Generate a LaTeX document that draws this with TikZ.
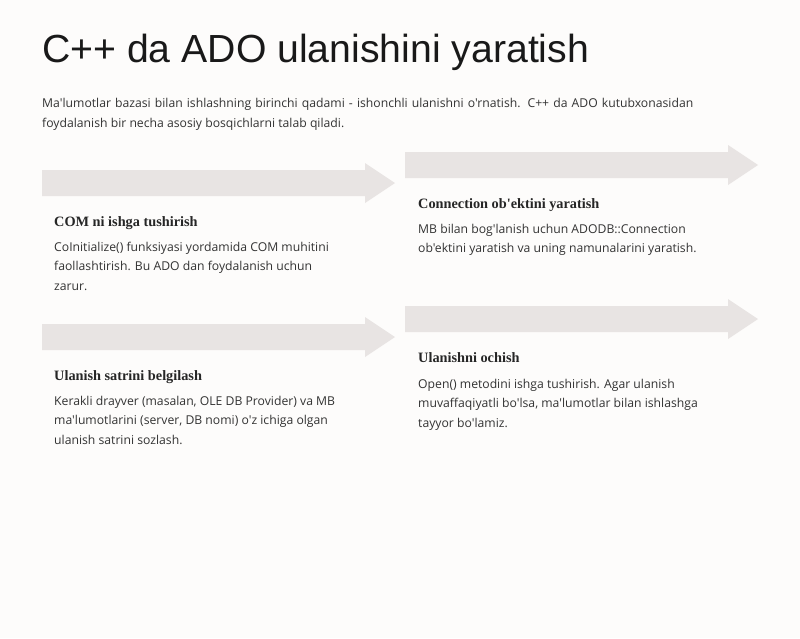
\documentclass[tikz,border=0pt]{standalone}
\usepackage{fontspec}
\setmainfont{Open Sans}[Ligatures=TeXOff]
\newfontfamily\titlefont{Liberation Sans}
\newfontfamily\headfont{Liberation Serif}[Ligatures=TeXOff]
\definecolor{pagebg}{HTML}{FDFCFB}
\definecolor{barfill}{HTML}{E8E4E3}
\definecolor{inktext}{HTML}{333333}
\begin{document}
\begin{tikzpicture}[
        x=1pt, y=-1pt,
        title/.style={anchor=base west, inner sep=0pt, text=black!90,
                      font=\titlefont\fontsize{39.2}{44}\selectfont},
        intro/.style={anchor=base west, inner sep=0pt, align=left, text=inktext,
                      font=\fontsize{12.2}{20}\selectfont},
        stephead/.style={anchor=base west, inner sep=0pt, text=black!85,
                      font=\headfont\bfseries\fontsize{14.3}{18}\selectfont},
        stepbody/.style={anchor=base west, inner sep=0pt, align=left, text=inktext,
                      font=\fontsize{12.2}{19.5}\selectfont}
    ]
        \fill[pagebg] (0,0) rectangle (800,638);
        \useasboundingbox (0,0) rectangle (800,638);

        % multi-line nodes sit on the baseline of their last line
        \node[title] (ttl) at (42,62) {C++ da ADO ulanishini yaratish};
        \node[intro] (par) at (42,127)
            {\makebox[651pt][s]{Ma'lumotlar bazasi bilan ishlashning birinchi qadami - ishonchli ulanishni o'rnatish. C++ da ADO kutubxonasidan}\\
             foydalanish bir necha asosiy bosqichlarni talab qiladi.};

        % step arrows
        \foreach \ax/\ay in {42/170, 405/152, 42/324, 405/306}
            \fill[barfill] (\ax,\ay) -- ++(323,0) -- ++(0,-7) -- ++(30,20)
                -- ++(-30,20) -- ++(0,-7) -- ++(-323,0) -- cycle;

        \node[stephead] (h1) at (54,226) {COM ni ishga tushirish};
        \node[stepbody] (b1) at (54,290)
            {CoInitialize() funksiyasi yordamida COM muhitini\\
             faollashtirish. Bu ADO dan foydalanish uchun\\
             zarur.};

        \node[stephead] (h2) at (418,208) {Connection ob'ektini yaratish};
        \node[stepbody] (b2) at (418,252.5)
            {MB bilan bog'lanish uchun ADODB::Connection\\
             ob'ektini yaratish va uning namunalarini yaratish.};

        \node[stephead] (h3) at (54,380) {Ulanish satrini belgilash};
        \node[stepbody] (b3) at (54,444)
            {Kerakli drayver (masalan, OLE DB Provider) va MB\\
             ma'lumotlarini (server, DB nomi) o'z ichiga olgan\\
             ulanish satrini sozlash.};

        \node[stephead] (h4) at (418,362) {Ulanishni ochish};
        \node[stepbody] (b4) at (418,427)
            {Open() metodini ishga tushirish. Agar ulanish\\
             muvaffaqiyatli bo'lsa, ma'lumotlar bilan ishlashga\\
             tayyor bo'lamiz.};
    \end{tikzpicture}
\end{document}
